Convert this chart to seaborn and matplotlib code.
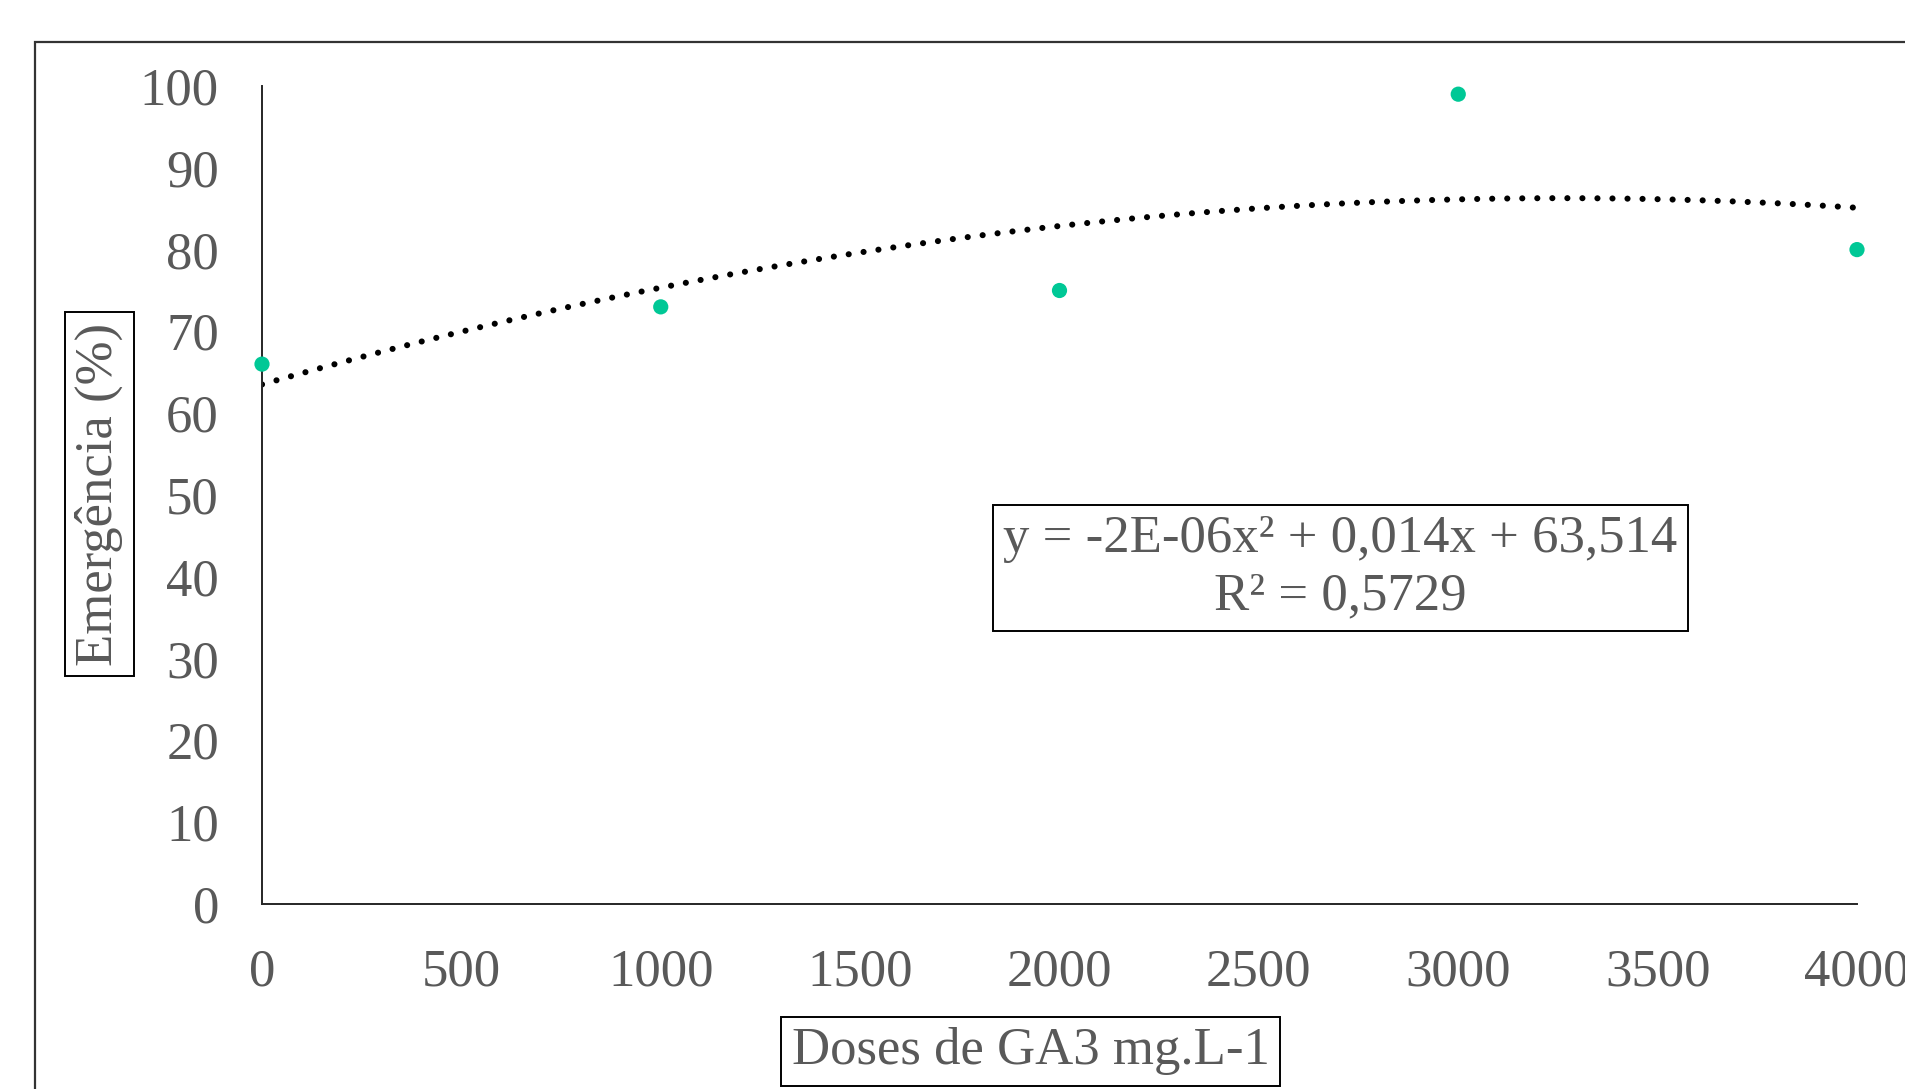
import numpy as np
import pandas as pd
import matplotlib
matplotlib.use('Agg')
import matplotlib.pyplot as plt
from matplotlib.patches import Rectangle
import seaborn as sns

# data
doses = [0, 1000, 2000, 3000, 4000]
emergencia = [66, 73, 75, 99, 80]
x_ticks = [0, 500, 1000, 1500, 2000, 2500, 3000, 3500, 4000]
y_ticks = [0, 10, 20, 30, 40, 50, 60, 70, 80, 90, 100]
equation_text = 'y = -2E-06x² + 0,014x + 63,514\nR² = 0,5729'

df = pd.DataFrame({'dose': doses, 'emergencia': emergencia})

sns.set_style('white')
plt.rcParams['font.family'] = ['Liberation Serif', 'DejaVu Serif']

text_color = '#595959'
fs = 38

fig = plt.figure(figsize=(19.05, 10.89), dpi=100)
ax = fig.add_axes([262 / 1905, 1 - 904 / 1089, (1857 - 262) / 1905, (904 - 86) / 1089])

# outer chart border (cropped on right and bottom)
fig.patches.append(Rectangle((35 / 1905, -0.1), 1.2, 1.1 - 42 / 1089,
                             transform=fig.transFigure, fill=False,
                             edgecolor='#333333', linewidth=1.6))

# polynomial trendline (order 2) dotted
sns.regplot(data=df, x='dose', y='emergencia', order=2, ci=None, scatter=False, ax=ax,
            line_kws={'color': 'black', 'linestyle': (0, (0.01, 2.45)), 'linewidth': 4.4,
                      'dash_capstyle': 'round'})
sns.scatterplot(data=df, x='dose', y='emergencia', ax=ax, color='#00c896', s=120,
                edgecolor='none', clip_on=False, zorder=3)

ax.set_xlim(0, 4000)
ax.set_ylim(0, 100)
ax.set_xticks(x_ticks)
ax.set_yticks(y_ticks)
ax.tick_params(axis='both', length=0, labelsize=fs, labelcolor=text_color)
ax.tick_params(axis='y', pad=31)
ax.tick_params(axis='x', pad=32)

for s in ['top', 'right']:
    ax.spines[s].set_visible(False)
for s in ['left', 'bottom']:
    ax.spines[s].set_color('#262626')
    ax.spines[s].set_linewidth(1.4)

box = dict(boxstyle='square,pad=0.2', facecolor='white', edgecolor='black', linewidth=1.4)

ax.set_ylabel('Emergência (%)', fontsize=fs, color=text_color, bbox=box)
ax.yaxis.set_label_coords(-0.102, 0.501)
ax.yaxis.label.set_verticalalignment('center')

ax.set_xlabel('Doses de GA3 mg.L-1', fontsize=fs, color=text_color, bbox=box)
ax.xaxis.set_label_coords(0.482, -0.18)
ax.xaxis.label.set_verticalalignment('center')

ax.text(0.676, 0.411, equation_text, transform=ax.transAxes, fontsize=fs, color=text_color,
        ha='center', va='center', multialignment='center', linespacing=1.25,
        bbox=dict(boxstyle='square,pad=0.2', facecolor='white', edgecolor='black', linewidth=1.4))

fig.savefig('out.png', dpi=100)
